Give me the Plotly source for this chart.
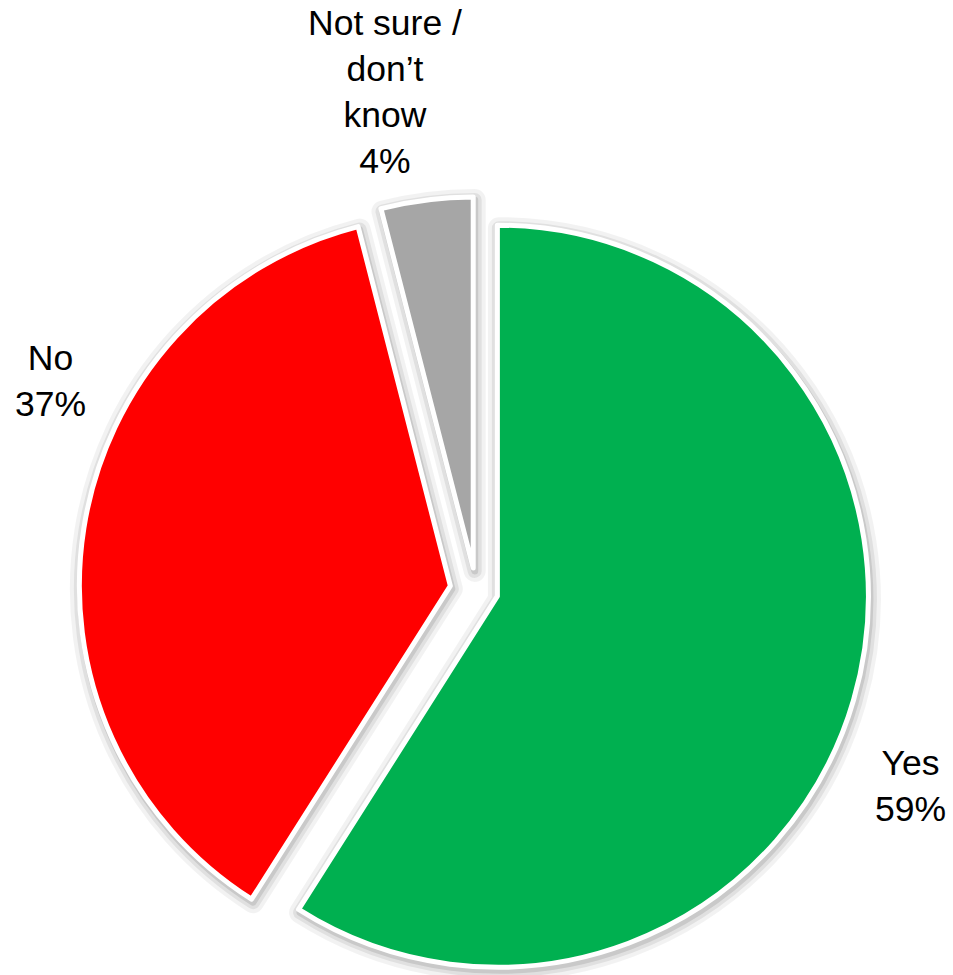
import plotly.graph_objects as go

# ---- data ----
labels = ["Yes", "No", "Not sure / don’t know"]
label_lines = ["Yes", "No", "Not sure /<br>don’t<br>know"]
values = [59, 37, 4]
colors = ["#00B050", "#FF0000", "#A6A6A6"]
pulls = [0.06, 0.07, 0.06]

# ---- layout geometry (px) ----
W, H = 953, 995
cx, cy, R = 476, 590, 371
half = R * (1 + max(pulls))


def dom(dx=0.0, dy=0.0):
    return dict(
        x=[(cx + dx - half) / W, (cx + dx + half) / W],
        y=[1 - (cy + dy + half) / H, 1 - (cy + dy - half) / H],
    )


fig = go.Figure()

# soft shadow layers
for w, a in [(22, 0.05), (14, 0.07), (7, 0.10)]:
    fig.add_trace(go.Pie(
        labels=labels, values=values, sort=False, direction="clockwise", rotation=0,
        pull=pulls, textinfo="none", hoverinfo="skip", showlegend=False,
        marker=dict(colors=["rgba(0,0,0,0)"] * len(values),
                    line=dict(color=f"rgba(0,0,0,{a})", width=w)),
        domain=dom(1.5, 3),
    ))

# main pie
fig.add_trace(go.Pie(
    labels=labels, values=values, sort=False, direction="clockwise", rotation=0,
    pull=pulls, textinfo="none", showlegend=False,
    marker=dict(colors=colors, line=dict(color="white", width=5)),
    domain=dom(),
))

label_pos = [(910, 786), (50, 381), (385, 92)]
for txt, v, (px, py) in zip(label_lines, values, label_pos):
    fig.add_annotation(
        x=px / W, y=1 - py / H, xref="paper", yref="paper",
        text=f"{txt}<br>{v}%", showarrow=False, xanchor="center", yanchor="middle",
        font=dict(family="Liberation Sans, Arial, sans-serif", size=35.5, color="black"),
        align="center",
    )

fig.update_layout(
    width=W, height=H, margin=dict(l=0, r=0, t=0, b=0),
    paper_bgcolor="white", plot_bgcolor="white", showlegend=False,
)

ps = ("document.body.style.margin='0';document.body.style.overflow='hidden';"
      "document.documentElement.style.overflow='hidden';"
      "var d=document.getElementById('{plot_id}');d.style.height='975px';d.style.overflow='hidden';")
fig.write_html("out.html", config={"displayModeBar": False}, post_script=ps)
